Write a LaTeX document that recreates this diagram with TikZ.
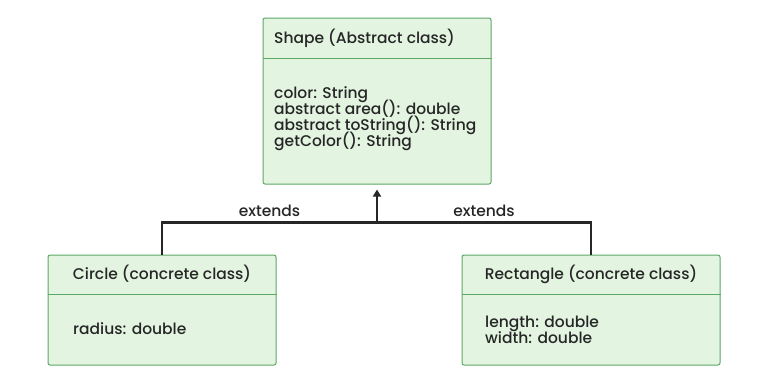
\documentclass[tikz,border=0pt]{standalone}
\usepackage{fontspec}
\setmainfont{Poppins}[UprightFont=* Medium]
\usepackage{tikz}
\usetikzlibrary{positioning,arrows.meta,calc}
\definecolor{boxfill}{HTML}{E3F5E1}
\definecolor{boxline}{HTML}{5DA866}
\definecolor{ink}{HTML}{262626}

\begin{document}
\lineskiplimit=-20pt
\begin{tikzpicture}[
  x=1pt, y=-1pt,
  font=\fontsize{15.5}{16}\selectfont, text=ink,
  node distance=4pt and 4pt,
  cls/.style={draw=boxline, line width=1pt, rounded corners=2pt, fill=boxfill,
              inner sep=0pt},
  txt/.style={inner sep=0pt, align=left, anchor=west},
  arr/.style={ink, line width=2.6pt, -{Triangle[length=7pt, width=8pt]}},
  ln/.style={ink, line width=2.6pt}
]
\useasboundingbox (0,0) rectangle (768,384);
% parent class
\node[cls, minimum width=228pt, minimum height=166pt] (shape) at (377,101) {};
\draw[boxline, line width=1pt] ($(shape.north west)+(0,41)$) -- ($(shape.north east)+(0,41)$);
\node[txt] (shapetitle) at (274,38) {Shape (Abstract class)};
\node[txt, anchor=north west] (shapebody) at (274,86) {color: String\\abstract area(): double\\abstract toString(): String\\getColor(): String};
% child classes
\node[cls, minimum width=228pt, minimum height=110pt] (circle) at (162,310) {};
\draw[boxline, line width=1pt] ($(circle.north west)+(0,40)$) -- ($(circle.north east)+(0,40)$);
\node[inner sep=0pt] (circletitle) at (162,274) {Circle (concrete class)};
\node[txt] (circlebody) at (73,329) {radius: double};
\node[cls, minimum width=258pt, minimum height=110pt] (rect) at (591,310) {};
\draw[boxline, line width=1pt] ($(rect.north west)+(0,40)$) -- ($(rect.north east)+(0,40)$);
\node[inner sep=0pt] (recttitle) at (591,274) {Rectangle (concrete class)};
\node[txt, anchor=north west] (rectbody) at (485,316) {length: double\\width: double};
% inheritance
\coordinate (join) at ($(shape.south)+(0,38)$);
\draw[ln] (circle.north) |- (join) node[pos=0.75, above=1pt] (ext1) {extends};
\draw[ln] (rect.north) |- (join) node[pos=0.75, above=1pt] (ext2) {extends};
\draw[arr] (join) -- ($(shape.south)+(0,5)$);
\end{tikzpicture}
\end{document}
